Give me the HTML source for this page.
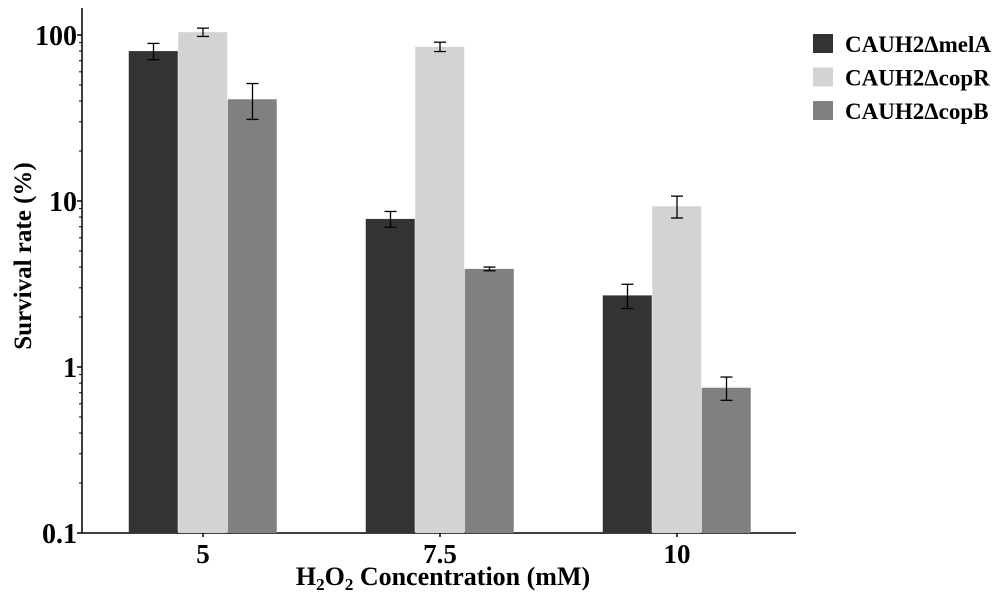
<!DOCTYPE html>
<html><head><meta charset="utf-8"><style>
body{margin:0;background:#fff;}
svg{display:block;font-family:"Liberation Serif",serif;font-weight:bold;}
</style></head><body>
<svg id="chart" width="1000" height="602" viewBox="0 0 1000 602">
<g id="axes"></g><g id="bars"></g><g id="legend"></g>
</svg>
<script>
const categories = ["5","7.5","10"];
const seriesNames = ["CAUH2\u0394melA","CAUH2\u0394copR","CAUH2\u0394copB"];
const seriesColors = ["#333333","#d3d3d3","#808080"];
const melA = [80, 7.8, 2.7];
const copR = [104, 85, 9.3];
const copB = [41, 3.9, 0.75];
const melAErr = [9, 0.85, 0.45];
const copRErr = [6, 5.5, 1.4];
const copBErr = [10, 0.1, 0.12];
const yTicks = [0.1, 1, 10, 100];
const yTickLabels = ["0.1","1","10","100"];

const NS="http://www.w3.org/2000/svg";
function mk(tag,attrs,parent){const e=document.createElementNS(NS,tag);for(const k in attrs)e.setAttribute(k,attrs[k]);parent.appendChild(e);return e;}
const axisX0=82, axisX1=796, yBottom=533, decade=166, yTopPx=8;
function y(v){return yBottom-(Math.log10(v)+1)*decade;}
const groupCenters=[203,440,677], barW=49.5;
function gx(i){return groupCenters[i];}

const axes=document.getElementById('axes');
let l=mk('line',{x1:axisX0,y1:yTopPx,x2:axisX0,y2:yBottom,stroke:'#000','stroke-width':1.5},axes);


l=mk('line',{x1:axisX0,y1:yBottom,x2:axisX1,y2:yBottom,stroke:'#000','stroke-width':1.5},axes);


yTicks.forEach((v,i)=>{
  const t=mk('line',{x1:axisX0-5,y1:y(v),x2:axisX0,y2:y(v),stroke:'#000','stroke-width':1.5},axes);
  
  
  const tx=mk('text',{x:axisX0-5,y:y(v)+10,'text-anchor':'end','font-size':28},axes);
  tx.textContent=yTickLabels[i];
  
  
  if(i<yTicks.length-1){for(let m=2;m<=9;m++){
    const mt=mk('line',{x1:axisX0-3,y1:y(v*m),x2:axisX0,y2:y(v*m),stroke:'#000','stroke-width':1},axes);
    
    
  }}
});
{const v=yTicks[yTicks.length-1];for(let m=2;m<=9;m++){if(y(v*m)<yTopPx)break;
  const mt=mk('line',{x1:axisX0-3,y1:y(v*m),x2:axisX0,y2:y(v*m),stroke:'#000','stroke-width':1},axes);
  
  }}
categories.forEach((c,i)=>{
  const t=mk('line',{x1:gx(i),y1:yBottom,x2:gx(i),y2:yBottom+4,stroke:'#000','stroke-width':1.5},axes);
  
  
  const tx=mk('text',{x:gx(i),y:yBottom+30,'text-anchor':'middle','font-size':27},axes);
  tx.textContent=c;
  
  
});
let yt=mk('text',{x:0,y:0,'text-anchor':'middle','font-size':25,transform:'translate(31,256) rotate(-90)'},axes);
yt.textContent='Survival rate (%)';


let xt=mk('text',{x:443,y:585,'text-anchor':'middle','font-size':26},axes);
xt.innerHTML='H<tspan font-size="17" dy="5">2</tspan><tspan dy="-5">O</tspan><tspan font-size="17" dy="5">2</tspan><tspan dy="-5"> Concentration (mM)</tspan>';



const bars=document.getElementById('bars');
const series=[melA,copR,copB], errs=[melAErr,copRErr,copBErr];
series.forEach((s,si)=>{
  s.forEach((v,i)=>{
    const x0=gx(i)-barW*1.5+si*barW;
    const r=mk('rect',{x:x0,y:y(v),width:barW-0.5,height:yBottom-y(v),fill:seriesColors[si]},bars);
    
    
    const cx=x0+barW/2, e=errs[si][i], y1=y(v+e), y2=y(v-e);
    const g=mk('g',{stroke:'#000','stroke-width':1.3},bars);
    
    
    mk('line',{x1:cx,y1:y1,x2:cx,y2:y2},g);
    mk('line',{x1:cx-6,y1:y1,x2:cx+6,y2:y1},g);
    mk('line',{x1:cx-6,y1:y2,x2:cx+6,y2:y2},g);
  });
});

const legend=document.getElementById('legend');
seriesNames.forEach((n,i)=>{
  const g=mk('g',{},legend);
  
  
  mk('rect',{x:813,y:34+i*33.5,width:20,height:19,fill:seriesColors[i]},g);
  const t=mk('text',{x:845,y:52+i*33.5,'font-size':23},g);
  t.textContent=n;
});
</script>
</body></html>
